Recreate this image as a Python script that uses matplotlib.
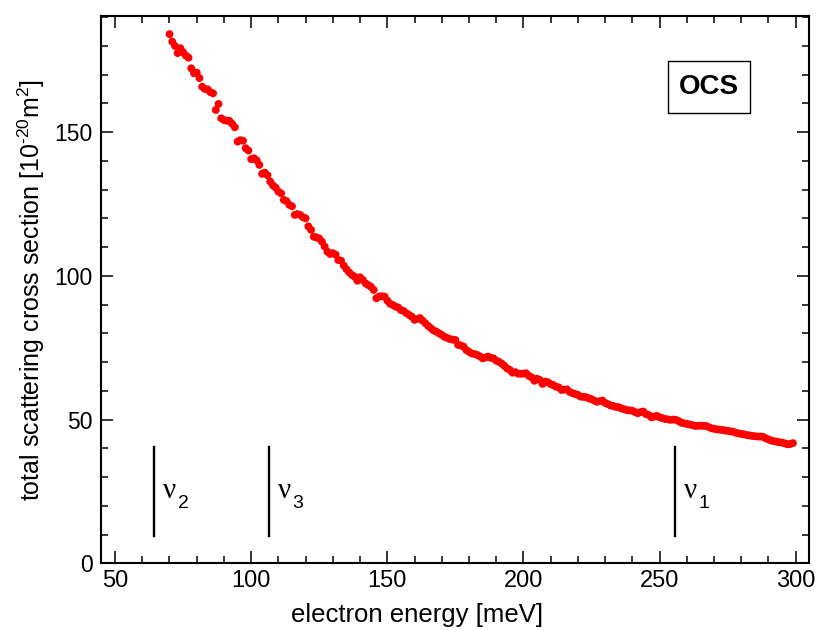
import matplotlib
matplotlib.use("Agg")
import matplotlib.pyplot as plt
from matplotlib.patches import Rectangle
from matplotlib.ticker import MultipleLocator

# ---------------- data ----------------
energy = list(range(70, 300))  # meV
cross_section = [
    184.1, 181.5, 180.0, 177.5, 179.2, 177.8, 176.6, 175.9, 172.2, 170.5,   # 70-79
    170.7, 168.8, 165.8, 165.0, 164.9, 163.9, 163.5, 157.7, 159.8, 154.8,   # 80-89
    154.2, 154.0, 153.9, 152.9, 151.7, 146.7, 147.2, 147.0, 144.4, 143.6,   # 90-99
    140.6, 140.9, 140.2, 138.6, 135.5, 135.9, 135.0, 132.8, 131.5, 130.7,   # 100-109
    129.3, 128.7, 126.4, 126.0, 124.7, 124.2, 121.2, 121.5, 121.2, 120.4,   # 110-119
    120.0, 117.2, 116.0, 113.6, 113.4, 113.0, 111.9, 110.2, 108.4, 107.6,   # 120-129
    107.9, 107.4, 105.5, 105.3, 103.6, 102.3, 101.2, 100.3, 99.7, 98.3,     # 130-139
    99.5, 98.6, 97.4, 96.8, 96.2, 95.1, 92.2, 92.8, 92.9, 92.8,             # 140-149
    91.4, 90.3, 89.9, 89.3, 89.0, 88.1, 87.8, 87.0, 86.4, 85.8,             # 150-159
    84.7, 85.0, 85.3, 84.4, 83.5, 82.6, 81.8, 81.0, 80.6, 80.0,             # 160-169
    79.5, 78.8, 78.4, 78.0, 77.8, 77.7, 76.0, 75.8, 75.4, 74.2,             # 170-179
    73.6, 73.0, 72.8, 72.5, 72.0, 71.3, 71.6, 71.9, 71.5, 71.3,             # 180-189
    70.5, 70.1, 69.5, 68.7, 67.8, 67.3, 66.3, 66.5, 66.0, 65.9,             # 190-199
    66.0, 66.1, 65.2, 64.7, 63.5, 64.2, 63.8, 62.4, 63.2, 63.0,             # 200-209
    62.3, 62.0, 61.4, 61.2, 60.3, 60.4, 60.5, 59.6, 59.2, 58.9,             # 210-219
    58.6, 58.0, 57.9, 57.8, 57.4, 57.1, 56.6, 56.2, 56.4, 56.6,             # 220-229
    55.8, 55.4, 54.9, 54.7, 54.4, 54.3, 53.9, 53.6, 53.3, 53.2,             # 230-239
    53.1, 52.6, 52.2, 52.6, 52.8, 51.9, 51.6, 50.8, 51.0, 51.3,             # 240-249
    50.8, 50.5, 50.2, 50.1, 49.9, 50.0, 49.9, 49.5, 48.9, 48.7,             # 250-259
    48.5, 48.3, 48.1, 47.8, 47.8, 47.9, 47.8, 47.8, 47.4, 47.0,             # 260-269
    46.8, 46.6, 46.5, 46.4, 46.2, 46.1, 45.9, 45.8, 45.4, 45.2,             # 270-279
    45.0, 44.9, 44.6, 44.5, 44.3, 44.2, 44.1, 44.1, 44.0, 43.5,             # 280-289
    43.1, 42.7, 42.5, 42.3, 42.1, 42.0, 41.7, 41.4, 41.5, 41.8,             # 290-299
]

mode_names = ["2", "3", "1"]
mode_energy = [64.4, 106.4, 255.6]   # meV
mode_line_range = (9.5, 40.4)

x_ticks = [50, 100, 150, 200, 250, 300]
y_ticks = [0, 50, 100, 150]

# ---------------- figure ----------------
plt.rcParams["font.family"] = ["Liberation Sans", "DejaVu Sans"]
plt.rcParams["mathtext.fontset"] = "custom"
plt.rcParams["mathtext.rm"] = "Liberation Sans"
plt.rcParams["mathtext.it"] = "Liberation Sans:italic"
plt.rcParams["mathtext.bf"] = "Liberation Sans:bold"

fig = plt.figure(figsize=(8.16, 6.30), dpi=100)
ax = fig.add_axes([0.1238, 0.1059, 0.8676, 0.8687])

ax.scatter(energy, cross_section, s=32, color="#ff0000", edgecolors="none", zorder=3)

ax.set_xlim(44.85, 304.9)
ax.set_ylim(0, 190.4)
ax.set_xticks(x_ticks)
ax.set_yticks(y_ticks)
ax.xaxis.set_minor_locator(MultipleLocator(10))
ax.yaxis.set_minor_locator(MultipleLocator(10))
ax.tick_params(which="both", direction="in", top=True, right=True,
               width=1.1, pad=6)
ax.tick_params(axis="x", which="major", labelsize=17, pad=5)
ax.tick_params(axis="y", which="major", labelsize=16.5, pad=6)
ax.tick_params(which="major", length=8.5)
ax.tick_params(which="minor", length=4.8)
for sp in ax.spines.values():
    sp.set_linewidth(1.5)

ax.set_xlabel("electron energy [meV]", fontsize=18.5)
ax.xaxis.set_label_coords(0.447, -0.073)
ax.set_ylabel(r"total scattering cross section [10$^{\text{-20}}$m$^{\text{2}}$]", fontsize=18)
ax.yaxis.set_label_coords(-0.077, 0.5)

# vibrational mode markers
for name, e in zip(mode_names, mode_energy):
    ax.plot([e, e], mode_line_range, color="black", lw=1.7, zorder=2)
    ax.annotate("ν", xy=(e, 25.2), xytext=(6.5, 0), textcoords="offset points",
                fontsize=21, family=["Liberation Serif", "DejaVu Serif"],
                va="center", ha="left")
    ax.annotate(name, xy=(e, 20.8), xytext=(17.0, 0), textcoords="offset points",
                fontsize=14, va="center", ha="left")

# OCS label box
ax.add_patch(Rectangle((0.8004, 0.8222), 0.1163, 0.0961, transform=ax.transAxes,
                       fill=False, lw=1.0, ec="black", zorder=4))
ax.text(0.8585, 0.8703, "OCS", transform=ax.transAxes, fontsize=20,
        fontweight="bold", ha="center", va="center", zorder=5)

fig.savefig("out.png", dpi=100)
